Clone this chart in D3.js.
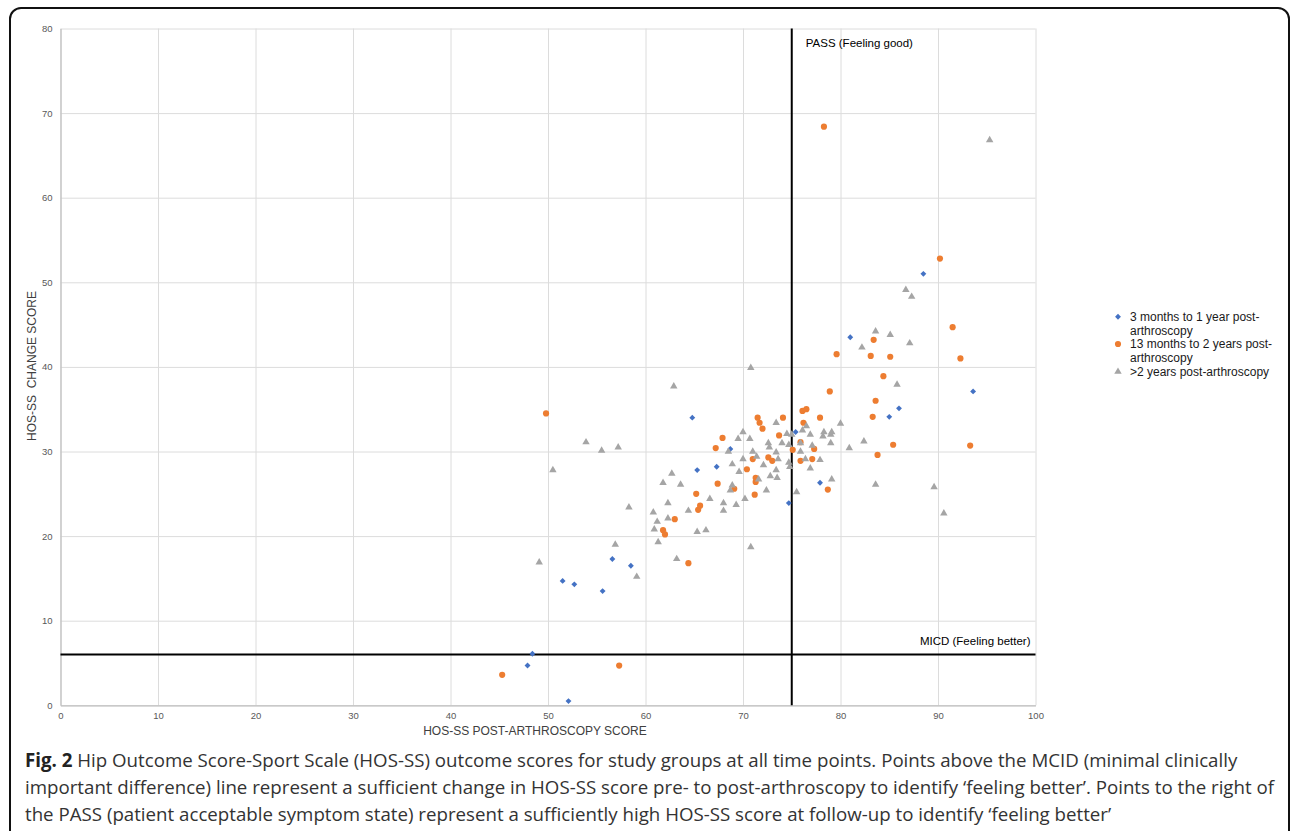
<!DOCTYPE html>
<html>
<head>
<meta charset="utf-8">
<script src="https://cdn.jsdelivr.net/npm/d3@7"></script>
<style>
  html, body { margin: 0; padding: 0; background: #fff; }
  svg { display: block; }
</style>
</head>
<body>
<svg id="chart" width="1290" height="831"></svg>
<script>
// series: [post-arthroscopy score, change score]
const threeTo12Months = [
  [48.4, 6.1], [47.9, 4.7], [52.1, 0.5], [51.5, 14.7], [52.7, 14.3], [55.6, 13.5],
  [56.6, 17.3], [58.5, 16.5], [64.8, 34.0], [65.3, 27.8], [67.3, 28.2], [68.7, 30.3],
  [74.7, 23.9], [75.4, 32.3], [77.9, 26.3], [81.0, 43.5], [85.0, 34.1], [86.0, 35.1],
  [88.5, 51.0], [93.6, 37.1]
];
const thirteenTo24Months = [
  [45.3, 3.6], [57.3, 4.7], [49.8, 34.5], [64.4, 16.8], [61.8, 20.7], [62.0, 20.2],
  [63.0, 22.0], [65.4, 23.1], [65.6, 23.6], [65.2, 25.0], [67.4, 26.2], [69.1, 25.6],
  [67.2, 30.4], [67.9, 31.6], [70.4, 27.9], [71.2, 24.9], [71.3, 26.9], [71.3, 26.4],
  [71.0, 29.1], [72.6, 29.3], [73.0, 28.9], [71.5, 34.0], [71.7, 33.4], [72.0, 32.7],
  [73.7, 31.9], [74.1, 34.0], [75.1, 30.2], [75.9, 31.1], [75.9, 28.9], [76.1, 34.8],
  [76.5, 35.0], [76.2, 33.4], [77.3, 30.3], [77.1, 29.1], [77.9, 34.0], [78.7, 25.5],
  [78.9, 37.1], [78.3, 68.4], [79.6, 41.5], [83.1, 41.3], [83.4, 43.2], [83.3, 34.1],
  [83.6, 36.0], [83.8, 29.6], [84.4, 38.9], [85.1, 41.2], [85.4, 30.8], [90.2, 52.8],
  [91.5, 44.7], [92.3, 41.0], [93.3, 30.7]
];
const over2Years = [
  [49.1, 16.9], [50.5, 27.8], [53.9, 31.1], [55.5, 30.1], [57.2, 30.5], [56.9, 19.0],
  [58.3, 23.4], [59.1, 15.2], [60.8, 22.8], [61.2, 21.7], [60.9, 20.8], [61.3, 19.3],
  [62.3, 23.9], [62.3, 22.1], [61.8, 26.3], [62.7, 27.4], [62.9, 37.7], [63.2, 17.3],
  [63.6, 26.1], [64.4, 23.0], [65.3, 20.5], [66.2, 20.7], [66.6, 24.4], [68.0, 23.9],
  [68.0, 23.0], [68.5, 30.0], [68.7, 25.4], [68.9, 26.0], [68.9, 28.5], [69.3, 23.7],
  [69.5, 31.5], [69.6, 27.6], [70.0, 32.3], [70.0, 29.1], [70.2, 24.4], [70.7, 31.5],
  [70.8, 39.9], [70.8, 18.7], [71.0, 30.0], [71.4, 29.4], [71.6, 26.7], [72.1, 28.4],
  [72.4, 25.4], [72.6, 31.0], [72.7, 30.5], [72.8, 27.1], [73.4, 33.4], [73.4, 29.9],
  [73.4, 27.8], [73.5, 26.9], [73.6, 29.1], [74.0, 31.0], [74.5, 32.1], [74.7, 30.8],
  [74.7, 28.7], [74.8, 28.2], [75.0, 32.0], [75.5, 25.2], [75.9, 31.0], [75.9, 30.0],
  [76.1, 32.5], [76.4, 29.1], [76.5, 33.0], [76.9, 32.0], [76.9, 28.0], [77.1, 30.7],
  [77.9, 29.0], [78.2, 31.8], [78.3, 32.3], [79.0, 32.0], [79.0, 31.0], [79.1, 32.3],
  [79.1, 26.7], [80.0, 33.3], [80.9, 30.4], [82.2, 42.3], [82.4, 31.2], [83.6, 44.2],
  [83.6, 26.1], [85.1, 43.8], [85.8, 37.9], [86.7, 49.1], [87.1, 42.8], [87.3, 48.3],
  [89.6, 25.8], [90.6, 22.7], [95.3, 66.8]
];
const legendLabels = [
  ["3 months to 1 year post-", "arthroscopy"],
  ["13 months to 2 years post-", "arthroscopy"],
  [">2 years post-arthroscopy"]
];
const xTicks = [0, 10, 20, 30, 40, 50, 60, 70, 80, 90, 100];
const yTicks = [0, 10, 20, 30, 40, 50, 60, 70, 80];
const micd = 6;   // MICD (feeling better)
const pass = 75;  // PASS (feeling good)
const captionLines = [
  "Hip Outcome Score-Sport Scale (HOS-SS) outcome scores for study groups at all time points. Points above the MCID (minimal clinically",
  "important difference) line represent a sufficient change in HOS-SS score pre- to post-arthroscopy to identify \u2018feeling better\u2019. Points to the right of",
  "the PASS (patient acceptable symptom state) represent a sufficiently high HOS-SS score at follow-up to identify \u2018feeling better\u2019"
];

const svg = d3.select("#chart");
const axisFont = "'Liberation Sans', Arial, sans-serif";

// rahmen
svg.append("rect")
  .attr("x", 10).attr("y", 8)
  .attr("width", 1279).attr("height", 900)
  .attr("rx", 11)
  .attr("fill", "#fff").attr("stroke", "#111").attr("stroke-width", 2);

const x = d3.scaleLinear().domain([0, 100]).range([60.5, 1035.5]);
const y = d3.scaleLinear().domain([0, 80]).range([705.3, 28.5]);

const g = svg.append("g");

// gitternetz
g.append("g")
  .attr("transform", `translate(0,${y(0)})`)
  .call(d3.axisBottom(x).tickValues(xTicks).tickSize(-(y(0) - y(80))).tickFormat(""))
  .call(s => s.select(".domain").remove())
  .call(s => s.selectAll("line").attr("stroke", "#dcdcdc"));
g.append("g")
  .attr("transform", `translate(${x(0)},0)`)
  .call(d3.axisLeft(y).tickValues(yTicks).tickSize(-(x(100) - x(0))).tickFormat(""))
  .call(s => s.select(".domain").remove())
  .call(s => s.selectAll("line").attr("stroke", "#dcdcdc"));

// achsen
const xAxis = g.append("g")
  .attr("transform", `translate(0,${y(0)})`)
  .call(d3.axisBottom(x).tickValues(xTicks).tickSize(0).tickPadding(7));
const yAxis = g.append("g")
  .attr("transform", `translate(${x(0)},0)`)
  .call(d3.axisLeft(y).tickValues(yTicks).tickSize(0).tickPadding(8));
[xAxis, yAxis].forEach(a => {
  a.select(".domain").attr("stroke", "#bfbfbf").attr("stroke-width", 1.2);
  a.selectAll("text").attr("fill", "#595959").style("font-family", axisFont).style("font-size", "9.5px");
});

// referenzlinien
g.append("line")
  .attr("x1", x(0)).attr("x2", x(100))
  .attr("y1", y(micd)).attr("y2", y(micd))
  .attr("stroke", "#000").attr("stroke-width", 2);
g.append("line")
  .attr("x1", x(pass)).attr("x2", x(pass))
  .attr("y1", y(80)).attr("y2", y(0))
  .attr("stroke", "#000").attr("stroke-width", 2);

g.append("text")
  .attr("x", x(pass) + 14).attr("y", y(80) + 18)
  .style("font-family", axisFont).style("font-size", "11.5px").attr("fill", "#000")
  .text("PASS (Feeling good)");
g.append("text")
  .attr("x", x(100) - 5).attr("y", y(micd) - 10)
  .attr("text-anchor", "end")
  .style("font-family", axisFont).style("font-size", "11.5px").attr("fill", "#000")
  .text("MICD (Feeling better)");

// punkte
const series = [
  { data: threeTo12Months, color: "#4472c4", symbol: d3.symbolDiamond2, size: 22 },
  { data: thirteenTo24Months, color: "#ed7d31", symbol: d3.symbolCircle, size: 30 },
  { data: over2Years, color: "#a5a5a5", symbol: d3.symbolTriangle, size: 24 }
];
series.forEach(s => {
  g.append("g").selectAll("path")
    .data(s.data)
    .enter()
    .append("path")
    .attr("transform", d => `translate(${x(d[0])},${y(d[1])})`)
    .attr("d", d3.symbol(s.symbol, s.size))
    .attr("fill", s.color);
});

// achsentitel
svg.append("text")
  .attr("x", 535).attr("y", 735)
  .attr("text-anchor", "middle")
  .style("font-family", axisFont).style("font-size", "12px").attr("fill", "#404040")
  .text("HOS-SS POST-ARTHROSCOPY SCORE");
svg.append("text")
  .attr("transform", "translate(36,366) rotate(-90)")
  .attr("text-anchor", "middle")
  .style("font-family", axisFont).style("font-size", "12px").attr("fill", "#404040")
  .style("white-space", "pre")
  .text("HOS-SS  CHANGE SCORE");

// legende
const legend = svg.append("g").attr("transform", "translate(1118,0)");
const legendRows = [316.7, 344, 371.7];
legendLabels.forEach((lines, i) => {
  const s = series[i];
  legend.append("path")
    .attr("transform", `translate(0,${legendRows[i]})`)
    .attr("d", d3.symbol(s.symbol, s.size))
    .attr("fill", s.color);
  const t = legend.append("text")
    .attr("x", 12).attr("y", legendRows[i] + 4)
    .style("font-family", axisFont).style("font-size", "12px").attr("fill", "#1a1a1a");
  lines.forEach((l, j) => {
    t.append("tspan").attr("x", 12).attr("dy", j === 0 ? 0 : 14).text(l);
  });
});

// bildunterschrift
const cap = svg.append("text")
  .style("font-family", "'Open Sans', sans-serif").style("font-size", "18.7px").attr("fill", "#333");
captionLines.forEach((l, i) => {
  const ts = cap.append("tspan").attr("x", 25).attr("y", 767 + i * 27);
  if (i === 0) {
    ts.append("tspan").style("font-weight", "bold").attr("fill", "#222").text("Fig. 2");
    ts.append("tspan").text(" " + l);
  } else {
    ts.text(l);
  }
});
</script>
</body>
</html>
